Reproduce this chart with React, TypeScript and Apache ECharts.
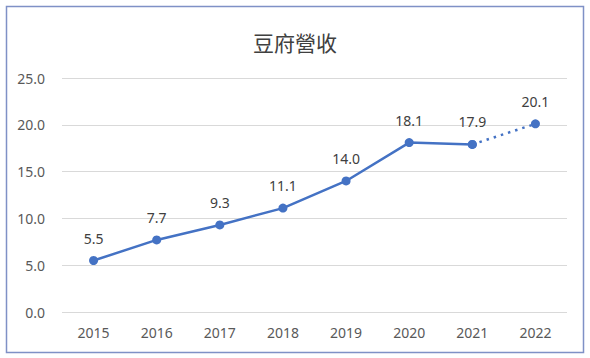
import React, { useEffect, useRef } from "react";
import * as echarts from "echarts";

const years = ["2015", "2016", "2017", "2018", "2019", "2020", "2021", "2022"];
const actual = [5.5, 7.7, 9.3, 11.1, 14.0, 18.1, 17.9, null];
const forecast = [null, null, null, null, null, null, 17.9, 20.1];
const titleText = "豆府營收";

export default function App() {
  const ref = useRef<HTMLDivElement>(null);
  useEffect(() => {
    if (!ref.current) return;
    const chart = echarts.init(ref.current, null, { renderer: "svg" });
    const font = "'Noto Sans', 'Noto Sans CJK TC', sans-serif";
    const labelCfg = {
      show: true,
      position: "top" as const,
      distance: 11,
      color: "#404040",
      fontSize: 14,
      fontFamily: font,
      formatter: (p: any) => (p.value == null ? "" : Number(p.value).toFixed(1)),
    };
    chart.setOption({
      animation: false,
      backgroundColor: "#ffffff",
      title: {
        text: titleText,
        left: "center",
        top: 26,
        textStyle: { fontSize: 21, fontWeight: "normal", color: "#404040", fontFamily: "'Noto Sans CJK TC', sans-serif" },
      },
      graphic: [
        {
          type: "rect",
          shape: { x: 6.5, y: 6.5, width: 577, height: 346 },
          style: { fill: "none", stroke: "#7f91c6", lineWidth: 1.5 },
          silent: true,
        },
      ],
      grid: { left: 62, right: 23, top: 78, bottom: 46 },
      xAxis: {
        type: "category",
        data: years,
        boundaryGap: true,
        axisLine: { show: false },
        axisTick: { show: false },
        axisLabel: { color: "#595959", fontSize: 14, fontFamily: font, margin: 13 },
      },
      yAxis: {
        type: "value",
        min: 0,
        max: 25,
        interval: 5,
        axisLine: { show: false },
        axisTick: { show: false },
        splitLine: { lineStyle: { color: "#d9d9d9", width: 1 } },
        axisLabel: {
          color: "#595959",
          fontSize: 14,
          fontFamily: font,
          margin: 17,
          formatter: (v: number) => v.toFixed(1),
        },
      },
      series: [
        {
          type: "line",
          data: actual,
          symbol: "circle",
          symbolSize: 9,
          lineStyle: { color: "#4472c4", width: 2.5 },
          itemStyle: { color: "#4472c4" },
          label: labelCfg,
          z: 3,
        },
        {
          type: "line",
          data: forecast,
          symbol: "circle",
          symbolSize: 9,
          lineStyle: { color: "#4472c4", width: 2.5, type: [2.5, 5] },
          itemStyle: { color: "#4472c4" },
          label: { ...labelCfg, formatter: (p: any) => (p.dataIndex === 7 ? Number(p.value).toFixed(1) : "") },
          z: 2,
        },
      ],
    });
    return () => chart.dispose();
  }, []);
  return (
    <div
      ref={ref}
      style={{ position: "absolute", left: 0, top: 0, width: 590, height: 358 }}
    />
  );
}
